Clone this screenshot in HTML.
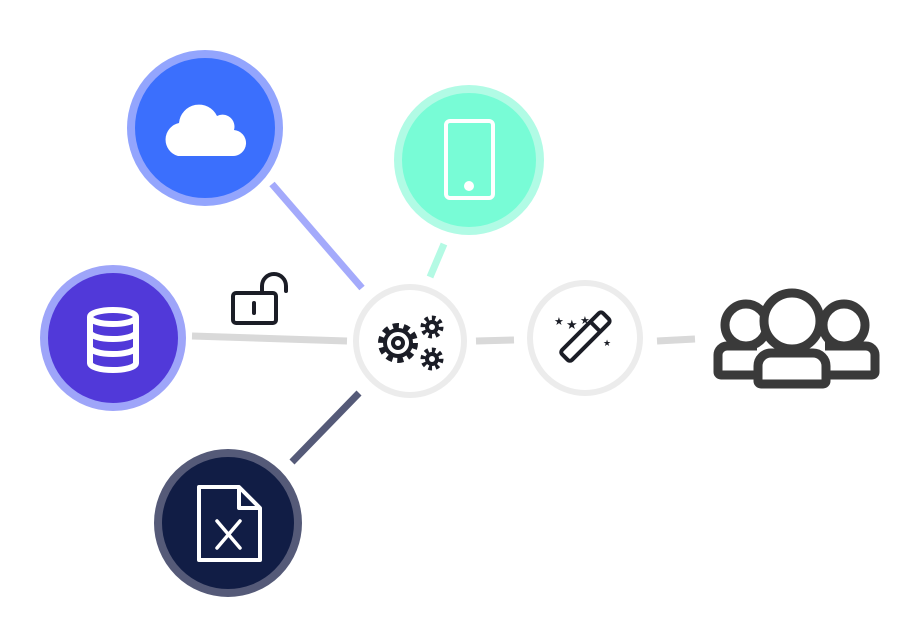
<!DOCTYPE html>
<html><head><style>html,body{margin:0;padding:0;background:#fff;width:922px;height:623px;overflow:hidden}</style></head>
<body>
<svg width="922" height="623" viewBox="0 0 922 623" xmlns="http://www.w3.org/2000/svg">
<g stroke-width="7" fill="none">
<line x1="272" y1="184" x2="362" y2="288" stroke="#a4aafb"/>
<line x1="444" y1="244" x2="430" y2="277" stroke="#b4fae4"/>
<line x1="359" y1="393" x2="292" y2="462" stroke="#555a78"/>
<line x1="192" y1="336" x2="347" y2="341" stroke="#d9d9d9"/>
<line x1="476" y1="341" x2="514" y2="340" stroke="#d9d9d9"/>
<line x1="657" y1="341" x2="695" y2="339" stroke="#d9d9d9"/>
</g>
<!-- cloud -->
<circle cx="205" cy="128" r="74" fill="#3b6ffd" stroke="#93a5fd" stroke-width="8"/>
<path d="M178 156 h54 a13 13 0 0 0 2 -26 a12 12 0 0 0 -17 -14 a20 20 0 0 0 -38 7 a17 17 0 0 0 -1 33z" fill="#fff"/>
<!-- db -->
<circle cx="113" cy="338" r="69" fill="#5139d9" stroke="#9ea5f9" stroke-width="8"/>
<g fill="none" stroke="#fff" stroke-width="6">
<ellipse cx="113" cy="317" rx="23" ry="7"/>
<path d="M90 317 v46 a23 7 0 0 0 46 0 v-46"/>
<path d="M90 332 a23 7 0 0 0 46 0 M90 347 a23 7 0 0 0 46 0"/>
</g>
<!-- phone -->
<circle cx="469" cy="160" r="71" fill="#78fcd6" stroke="#b1fbe5" stroke-width="8"/>
<rect x="446" y="121" width="47" height="77" rx="4" fill="none" stroke="#fff" stroke-width="4"/>
<circle cx="469" cy="186" r="5" fill="#fff"/>
<!-- excel -->
<circle cx="228" cy="523" r="70" fill="#111d45" stroke="#555a78" stroke-width="8"/>
<path d="M199 487 h40 l21 21 v52 h-61z M239 487 v21 h21" fill="none" stroke="#fff" stroke-width="4" stroke-linejoin="round"/>
<path d="M217 521 L240 548 M240 521 L217 548" stroke="#fff" stroke-width="3.5" stroke-linecap="round"/>
<!-- lock -->
<rect x="233" y="293" width="43" height="30" rx="3" fill="none" stroke="#1b1d26" stroke-width="4"/>
<line x1="254" y1="303" x2="254" y2="313" stroke="#1b1d26" stroke-width="4" stroke-linecap="round"/>
<path d="M262 293 v-7 a12 12 0 0 1 24 0 v5" fill="none" stroke="#1b1d26" stroke-width="4" stroke-linecap="round"/>
<!-- gear node -->
<circle cx="410" cy="341" r="54" fill="#fff" stroke="#ececec" stroke-width="6"/>
<g fill="none" stroke="#1b1d26">
<circle cx="398" cy="343" r="5" stroke-width="4"/>
<circle cx="398" cy="343" r="17" stroke-dasharray="6 4.7" stroke-width="6"/>
<circle cx="398" cy="343" r="13" stroke-width="4"/>
<circle cx="432" cy="327" r="5" stroke-width="4"/>
<circle cx="432" cy="327" r="9" stroke-dasharray="3.5 3.5" stroke-width="5"/>
<circle cx="432" cy="359" r="5" stroke-width="4"/>
<circle cx="432" cy="359" r="9" stroke-dasharray="3.5 3.5" stroke-width="5"/>
</g>
<!-- wand node -->
<circle cx="585" cy="338" r="55" fill="#fff" stroke="#ececec" stroke-width="6"/>
<g transform="rotate(-45 584 338)">
<rect x="557" y="331" width="58" height="14" rx="3" fill="none" stroke="#1b1d26" stroke-width="4"/>
<line x1="600" y1="331" x2="600" y2="345" stroke="#1b1d26" stroke-width="4"/>
</g>
<g fill="#1b1d26" font-family="DejaVu Sans" font-size="11">
<text x="554" y="325">★</text><text x="566" y="329" font-size="13">★</text><text x="580" y="324">★</text><text x="603" y="346" font-size="9">★</text>
</g>
<!-- people -->
<g fill="none" stroke="#3a3a3a" stroke-width="9" stroke-linejoin="round">
<circle cx="746" cy="325" r="21"/>
<circle cx="844" cy="325" r="21"/>
<path d="M757 346 h-30 a9 9 0 0 0 -9 9 v17 a3 3 0 0 0 3 3 h36"/>
<path d="M825 346 h41 a9 9 0 0 1 9 9 v17 a3 3 0 0 1 -3 3 h-47"/>
<circle cx="792" cy="321" r="28" fill="#fff"/>
<path d="M771 353 h42 a13 13 0 0 1 13 13 v15 a3 3 0 0 1 -3 3 h-62 a3 3 0 0 1 -3 -3 v-15 a13 13 0 0 1 13 -13z" fill="#fff"/>
</g>
</svg>
</body></html>
